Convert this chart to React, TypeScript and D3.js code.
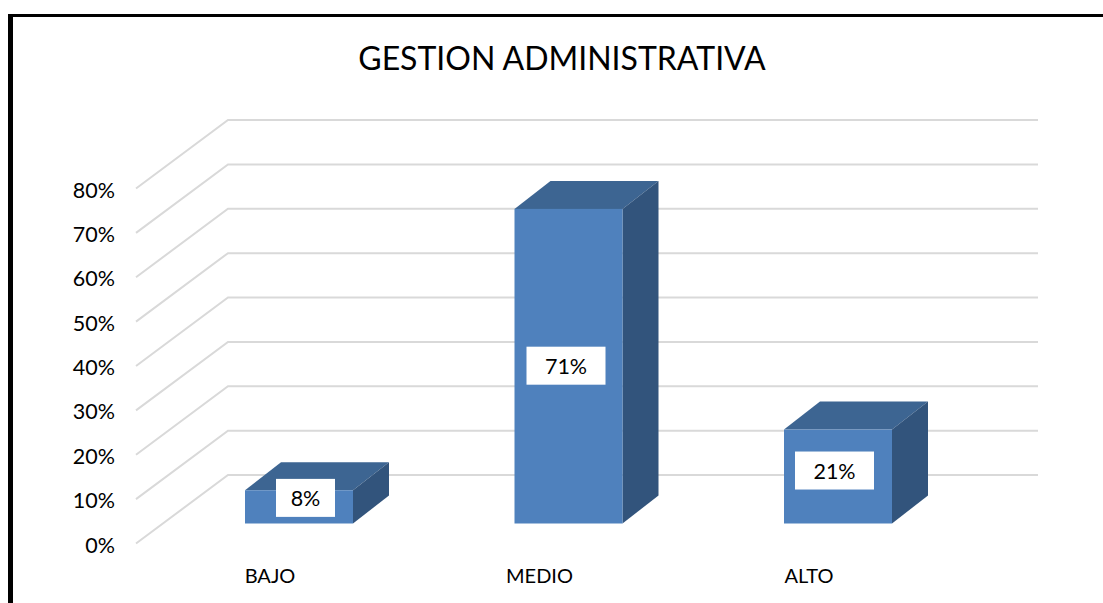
import React from "react";
import * as d3 from "d3";

const title = "GESTION ADMINISTRATIVA";
const categories = ["BAJO", "MEDIO", "ALTO"];
const barValues = [7.5, 71, 21.2];
const barLabels = ["8%", "71%", "21%"];
const ticks = [0, 10, 20, 30, 40, 50, 60, 70, 80];

const W = 1103, H = 603;
const font = "Lato, 'Open Sans', sans-serif";

// front wall (tick side) and back wall of the 3D box
const yFront = d3.scaleLinear().domain([0, 80]).range([543.5, 188.5]);
const yBack = d3.scaleLinear().domain([0, 80]).range([475, 120]);
const yBar = d3.scaleLinear().domain([0, 80]).range([523.5, 169]);
const xCenter = d3.scalePoint<string>().domain(categories).range([299, 838]);
const frontLeft = 136, backLeft = 228, backRight = 1038;
const dx = 36, dy = -28;
const labelShiftX = [6.5, -2.5, -3.5];
const labelShiftY = [-9, -0.5, -6];
const labelWidths = [59, 79, 79];

export default function App() {
  const bw = 108;
  return (
    <svg width={W} height={H} viewBox={`0 0 ${W} ${H}`} style={{ position: "absolute", left: 0, top: 0, background: "#fff" }}>
      <rect x={8} y={14} width={W - 8} height={3} fill="#000" />
      <rect x={8} y={14} width={5} height={H - 14} fill="#000" />
      <text x={562} y={70} textAnchor="middle" fontFamily={font} fontSize={32} fill="#000">{title}</text>
      {ticks.map((t) => (
        <g key={t}>
          <polyline
            points={`${frontLeft},${yFront(t)} ${backLeft},${yBack(t)} ${backRight},${yBack(t)}`}
            fill="none" stroke="#d9d9d9" strokeWidth={2}
          />
          <text x={115} y={yFront(t) + 9} textAnchor="end" fontFamily={font} fontSize={21.5} fill="#000">{t}%</text>
        </g>
      ))}
      {categories.map((c, i) => {
        const cx = xCenter(c) as number;
        const x = cx - bw / 2;
        const top = yBar(barValues[i]);
        const bot = yBar(0);
        const lw = labelWidths[i], lh = 38;
        const cy = (top + bot) / 2 + labelShiftY[i];
        const lcx = cx + labelShiftX[i];
        return (
          <g key={c}>
            <polygon points={`${x},${top} ${x + dx},${top + dy} ${x + bw + dx},${top + dy} ${x + bw},${top}`} fill="#3d6592" />
            <polygon points={`${x + bw},${top} ${x + bw + dx},${top + dy} ${x + bw + dx},${bot + dy} ${x + bw},${bot}`} fill="#32547c" />
            <rect x={x} y={top} width={bw} height={bot - top} fill="#4f81bd" />
            <rect x={lcx - lw / 2} y={cy - lh / 2} width={lw} height={lh} fill="#fff" />
            <text x={lcx} y={cy + 8} textAnchor="middle" fontFamily={font} fontSize={21.5} fill="#000">{barLabels[i]}</text>
            <text x={x + 25} y={583} textAnchor="middle" fontFamily={font} fontSize={20} fill="#000">{c}</text>
          </g>
        );
      })}
    </svg>
  );
}
